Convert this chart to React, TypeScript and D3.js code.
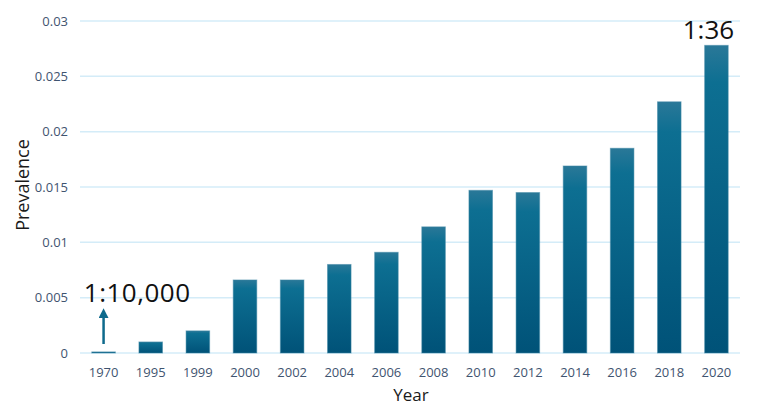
import React, { useEffect, useRef } from 'react';
import * as d3 from 'd3';

const years = ['1970', '1995', '1999', '2000', '2002', '2004', '2006', '2008', '2010', '2012', '2014', '2016', '2018', '2020'];
const prevalence = [0.0001, 0.001, 0.002, 0.0066, 0.0066, 0.008, 0.0091, 0.0114, 0.0147, 0.0145, 0.0169, 0.0185, 0.0227, 0.0278];
const yTicks = [0, 0.005, 0.01, 0.015, 0.02, 0.025, 0.03];
const yTickLabels = ['0', '0.005', '0.01', '0.015', '0.02', '0.025', '0.03'];

const W = 759;
const H = 413;

const App = () => {
  const svgRef = useRef<SVGSVGElement>(null);

  useEffect(() => {
    const svg = d3.select(svgRef.current);
    svg.selectAll('*').remove();

    const margin = { top: 21, right: 19, bottom: 60, left: 80 };
    const x = d3.scaleBand().domain(years).range([margin.left, W - margin.right]).paddingInner(0.5).paddingOuter(0.25);
    const y = d3.scaleLinear().domain([0, 0.03]).range([H - margin.bottom, margin.top]);

    const defs = svg.append('defs');
    const grad = defs.append('linearGradient')
      .attr('id', 'barGrad')
      .attr('x1', 0).attr('y1', 0).attr('x2', 0).attr('y2', 1);
    grad.append('stop').attr('offset', '0%').attr('stop-color', '#2a7898');
    grad.append('stop').attr('offset', '12%').attr('stop-color', '#0d6f92');
    grad.append('stop').attr('offset', '100%').attr('stop-color', '#005278');

    // gridlines
    svg.append('g')
      .selectAll('line')
      .data(yTicks)
      .enter().append('line')
        .attr('x1', margin.left)
        .attr('x2', W - margin.right)
        .attr('y1', d => y(d))
        .attr('y2', d => y(d))
        .attr('stroke', '#d4ecf8')
        .attr('stroke-width', 1.5);

    // y tick labels
    svg.append('g')
      .selectAll('text')
      .data(yTicks)
      .enter().append('text')
        .attr('x', margin.left - 12)
        .attr('y', d => y(d))
        .attr('dy', '0.35em')
        .attr('text-anchor', 'end')
        .attr('fill', '#3f5470')
        .attr('font-size', 13)
        .text((d, i) => yTickLabels[i]);

    // bars
    svg.append('g')
      .selectAll('rect')
      .data(prevalence)
      .enter().append('rect')
        .attr('x', (d, i) => x(years[i])!)
        .attr('width', x.bandwidth())
        .attr('y', d => y(d))
        .attr('height', d => y(0) - y(d))
        .attr('fill', 'url(#barGrad)')
        .attr('stroke', '#3f88a6')
        .attr('stroke-opacity', 0.5)
        .attr('stroke-width', 1);

    // x tick labels
    svg.append('g')
      .selectAll('text')
      .data(years)
      .enter().append('text')
        .attr('x', d => x(d)! + x.bandwidth() / 2)
        .attr('y', y(0) + 24)
        .attr('text-anchor', 'middle')
        .attr('fill', '#3f5470')
        .attr('font-size', 13)
        .text(d => d);

    // axis titles
    svg.append('text')
      .attr('x', (margin.left + W - margin.right) / 2 + 1)
      .attr('y', H - 12)
      .attr('text-anchor', 'middle')
      .attr('fill', '#1a1a1a')
      .attr('font-size', 17)
      .text('Year');

    svg.append('text')
      .attr('transform', `translate(29, ${(y(0) + y(0.03)) / 2 - 2}) rotate(-90)`)
      .attr('text-anchor', 'middle')
      .attr('fill', '#1a1a1a')
      .attr('font-size', 18)
      .text('Prevalence');

    // annotations
    const firstX = x(years[0])! + x.bandwidth() / 2;
    svg.append('defs').append('marker')
      .attr('id', 'arrowHead')
      .attr('viewBox', '0 0 10 10')
      .attr('refX', 5).attr('refY', 5)
      .attr('markerWidth', 4).attr('markerHeight', 4)
      .attr('orient', 'auto')
      .append('path')
        .attr('d', 'M0,0 L10,5 L0,10 z')
        .attr('fill', '#0e6a8c');
    svg.append('line')
      .attr('x1', firstX).attr('x2', firstX)
      .attr('y1', y(0) - 9)
      .attr('y2', y(0.0036))
      .attr('stroke', '#0e6a8c')
      .attr('stroke-width', 2.5)
      .attr('marker-end', 'url(#arrowHead)');

    svg.append('text')
      .attr('x', x(years[0])! - 8)
      .attr('y', y(0.0046))
      .attr('fill', '#111')
      .attr('font-size', 26)
      .attr('letter-spacing', 0.5)
      .text('1:10,000');

    const lastX = x(years[years.length - 1])! + x.bandwidth() / 2;
    svg.append('text')
      .attr('x', lastX - 8)
      .attr('y', y(prevalence[prevalence.length - 1]) - 6)
      .attr('text-anchor', 'middle')
      .attr('fill', '#111')
      .attr('font-size', 26)
      .text('1:36');
  }, []);

  return (
    <svg
      ref={svgRef}
      width={W}
      height={H}
      style={{ position: 'absolute', left: 0, top: 0, background: 'white', fontFamily: '"Open Sans", "Liberation Sans", sans-serif' }}
    ></svg>
  );
};

export default App;
